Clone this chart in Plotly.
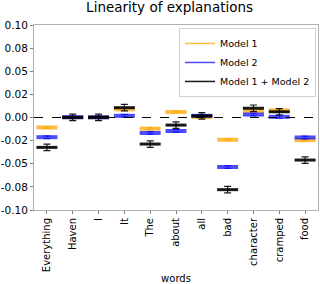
import plotly.graph_objects as go

words = ["Everything", "Haven", "I", "It", "The", "about", "all", "bad", "character", "cramped", "food"]
model1 = [-0.0108, 0.0002, 0.0002, 0.0088, -0.0120, 0.0060, 0.0005, -0.0240, 0.0071, 0.0078, -0.0245]
model2 = [-0.0213, 0.0003, 0.0002, 0.0018, -0.0167, -0.0146, 0.0018, -0.0535, 0.0032, 0.0007, -0.0216]
model12 = [-0.0323, 0.0001, 0.0002, 0.0106, -0.0287, -0.0082, 0.0018, -0.0780, 0.0100, 0.0062, -0.0460]
spread1 = [0.0010] * len(words)
spread2 = [0.0015] * len(words)
spread12 = [0.0035] * len(words)

yticks = [0.1, 0.075, 0.05, 0.025, 0.0, -0.025, -0.05, -0.075, -0.1]
yticktext = ["0.10", "0.08", "0.05", "0.02", "0.00", "-0.02", "-0.05", "-0.08", "-0.10"]

series = [
    ("Model 1", model1, spread1, "rgba(255,165,0,0.75)", 4),
    ("Model 2", model2, spread2, "rgba(0,0,255,0.7)", 4),
    ("Model 1 + Model 2", model12, spread12, "rgba(0,0,0,0.9)", 3),
]

fig = go.Figure()
for name, vals, spr, col, lw in series:
    fig.add_trace(go.Scatter(
        x=words, y=vals, mode="markers", showlegend=False,
        marker=dict(symbol="line-ew", size=15, line=dict(color=col, width=lw)),
        error_y=dict(type="data", array=spr, visible=True, color=col, thickness=1.2, width=3.5),
        hoverinfo="skip",
    ))
for name, vals, spr, col, lw in series:
    fig.add_trace(go.Scatter(
        x=[None], y=[None], mode="lines", name=name,
        line=dict(color=col, width=1.5),
    ))

fig.add_hline(y=0, line=dict(color="black", width=1, dash="dash"))

fig.update_layout(
    width=320, height=284,
    margin=dict(l=30, r=1, t=25, b=71),
    paper_bgcolor="white", plot_bgcolor="white",
    font=dict(family="DejaVu Sans", size=10, color="black"),
    title=dict(text="Linearity of explanations", x=0.53, xanchor="center", y=0.99, yanchor="top",
               font=dict(size=13.5)),
    legend=dict(x=0.993, xanchor="right", y=0.984, yanchor="top",
                bordercolor="#d0d0d0", borderwidth=1, bgcolor="rgba(255,255,255,0.8)",
                font=dict(size=9.5), tracegroupgap=0, itemwidth=30),
    xaxis=dict(title=dict(text="words", standoff=4, font=dict(size=10)),
               tickangle=-90, range=[-0.5, len(words) - 0.5],
               showline=True, linecolor="#b0b0b0", mirror=True, showgrid=False,
               ticks="outside", ticklen=3, tickcolor="#808080", zeroline=False),
    yaxis=dict(range=[-0.1, 0.1], tickvals=yticks, ticktext=yticktext, tickfont=dict(size=10.5),
               showline=True, linecolor="#b0b0b0", mirror=True, showgrid=False,
               ticks="outside", ticklen=3, tickcolor="#808080", zeroline=False),
)

fig.write_html("out.html", config={"displayModeBar": False},
               post_script="document.body.style.margin='0';document.body.style.overflow='hidden';")
